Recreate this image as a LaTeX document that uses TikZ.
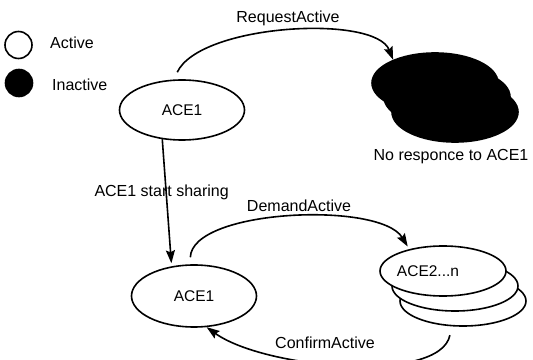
\documentclass[tikz,border=0pt]{standalone}
\usepackage{fontspec}
\setmainfont{Liberation Sans}
\usetikzlibrary{arrows.meta,shapes.geometric}
\begin{document}
\begin{tikzpicture}[x=1pt,y=1pt,
  lw/.style={line width=1.6pt},
  state/.style={ellipse, draw, lw, fill=white, minimum width=125pt, minimum height=60pt, inner sep=0pt, font=\fontsize{15.5}{17}\selectfont},
  stackel/.style={ellipse, draw, lw, fill=white, minimum width=126pt, minimum height=50pt, inner sep=0pt, font=\fontsize{15.5}{17}\selectfont},
  blobel/.style={ellipse, draw, lw, fill=black, minimum width=126pt, minimum height=60pt, inner sep=0pt},
  legc/.style={circle, draw, lw, minimum size=27pt, inner sep=0pt},
  lab/.style={font=\fontsize{16}{18}\selectfont, inner sep=0pt},
  arr/.style={lw, -{Stealth[length=13pt,width=9pt,inset=2pt]}},
]
\useasboundingbox (0,0) rectangle (533,359);
% legend
\node[legc] (lact) at (18.5,314) {};
\node[lab, anchor=west] (tact) at (50,316) {Active};
\node[legc, fill=black] (linact) at (19,276) {};
\node[lab, anchor=west] (tinact) at (52,274) {Inactive};
% states
\node[state] (acetop) at (182,249) {ACE1};
\node[state, minimum height=62pt] (acebot) at (194,63) {ACE1};
% inactive stack
\node[blobel] (blobc) at (455,247) {};
\node[blobel] (blobb) at (447,262) {};
\node[blobel] (bloba) at (435,276) {};
\node[lab] (tnoresp) at (451,202) {No responce to ACE1};
% active stack
\node[stackel] (acec) at (463,58) {};
\node[stackel] (aceb) at (455,73) {};
\node[stackel] (acea) at (443,88) {};
\node[font=\fontsize{15.5}{17}\selectfont, inner sep=0pt] (tace2) at (428,88) {ACE2...n};
% connectors
\draw[arr, shorten <=8pt] (acetop.105) .. controls (200,335) and (375,345) .. (bloba.151);
\node[lab] (treq) at (288,341) {RequestActive};
\draw[arr, shorten >=3pt] (acetop.236) -- (acebot.127);
\node[lab, anchor=east] (tshare) at (229,167) {ACE1 start sharing};
\draw[arr, shorten <=7pt, shorten >=3pt] (acebot.97) .. controls (192,150) and (380,158) .. (acea.147);
\node[lab] (tdemand) at (299,153) {DemandActive};
\draw[arr, shorten <=9pt] (acec.246) .. controls (440,-25) and (265,-10) .. (acebot.-68);
\node[lab] (tconfirm) at (325,16) {ConfirmActive};
\end{tikzpicture}
\end{document}
